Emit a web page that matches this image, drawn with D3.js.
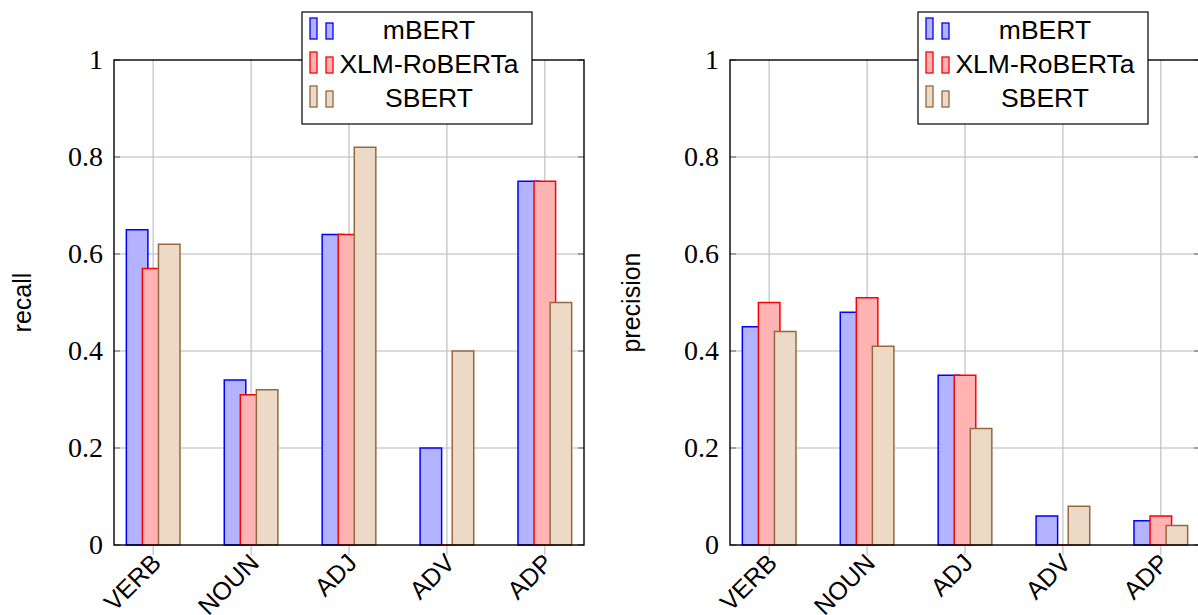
<!DOCTYPE html>
<html>
<head>
<meta charset="utf-8">
<script src="https://cdn.jsdelivr.net/npm/d3@7"></script>
<style>
  body { margin: 0; background: #fff; }
  svg { display: block; }
  .tickLabel { font-family: "Liberation Serif", "DejaVu Serif", serif; font-size: 28px; fill: #000; }
  .catLabel, .axisTitle, .legendText { font-family: "Liberation Sans", Arial, sans-serif; fill: #000; }
</style>
</head>
<body>
<svg id="chart" width="1198" height="615"></svg>
<script>
//data
var categories = ["VERB", "NOUN", "ADJ", "ADV", "ADP"]
var models = ["mBERT", "XLM-RoBERTa", "SBERT"]

var recall_mBERT = [0.65, 0.34, 0.64, 0.20, 0.75]
var recall_XLM = [0.57, 0.31, 0.64, 0.00, 0.75]
var recall_SBERT = [0.62, 0.32, 0.82, 0.40, 0.50]

var precision_mBERT = [0.45, 0.48, 0.35, 0.06, 0.05]
var precision_XLM = [0.50, 0.51, 0.35, 0.00, 0.06]
var precision_SBERT = [0.44, 0.41, 0.24, 0.08, 0.04]

var yTicks = [0, 0.2, 0.4, 0.6, 0.8, 1]

//pgfplots style colours (color!30 fill, plain color stroke)
var fills = ["#b3b3ff", "#ffb3b3", "#ecd9c6"]
var strokes = ["#0000ff", "#ff0000", "#96683e"]

var svg = d3.select("#chart")

function drawPanel(left, yTitle, titleX, series){
  var top = 60, width = 470, height = 485

  var x = d3.scalePoint()
    .domain(categories)
    .range([left, left + width])
    .padding(0.4)

  var y = d3.scaleLinear()
    .domain([0, 1])
    .range([top + height, top])

  var step = x.step()
  var barW = step * 0.22 //bar width
  var shift = step * 0.164 //offset between bars in a group

  var g = svg.append("g")

  //grid
  g.selectAll("line.hgrid")
    .data(yTicks.slice(1, -1))
    .enter().append("line")
    .attr("x1", left).attr("x2", left + width)
    .attr("y1", function(d){ return y(d) }).attr("y2", function(d){ return y(d) })
    .style("stroke", "#cfcfcf").style("stroke-width", 1.3)

  g.selectAll("line.vgrid")
    .data(categories)
    .enter().append("line")
    .attr("x1", function(d){ return x(d) }).attr("x2", function(d){ return x(d) })
    .attr("y1", top).attr("y2", top + height + 10)
    .style("stroke", "#c4c4c4").style("stroke-width", 1.3)

  //bars
  series.forEach(function(vals, s){
    g.selectAll("path.bar" + s)
      .data(vals)
      .enter().append("path")
      .attr("d", function(d, i){
        var x0 = x(categories[i]) + (s - 1) * shift - barW / 2
        var x1 = x0 + barW
        var y0 = y(0), y1 = y(d)
        return "M" + x0 + "," + y0 + "V" + y1 + "H" + x1 + "V" + y0 + "Z"
      })
      .style("fill", fills[s])
      .style("stroke", strokes[s])
      .style("stroke-width", 1.5)
  })

  //y ticks inside on both sides
  yTicks.forEach(function(t){
    g.append("line")
      .attr("x1", left).attr("x2", left + 6)
      .attr("y1", y(t)).attr("y2", y(t))
      .style("stroke", "#777").style("stroke-width", 1.2)
    g.append("line")
      .attr("x1", left + width - 6).attr("x2", left + width)
      .attr("y1", y(t)).attr("y2", y(t))
      .style("stroke", "#777").style("stroke-width", 1.2)
  })

  //axis box
  g.append("rect")
    .attr("x", left).attr("y", top)
    .attr("width", width).attr("height", height)
    .style("fill", "none").style("stroke", "#000").style("stroke-width", 1.4)

  //y tick labels
  g.selectAll("text.ylab")
    .data(yTicks)
    .enter().append("text")
    .attr("class", "tickLabel")
    .attr("x", left - 11)
    .attr("y", function(d){ return y(d) })
    .attr("dy", "0.33em")
    .attr("text-anchor", "end")
    .text(function(d){ return d3.format("")(d) })

  //x labels rotated 45 degrees
  g.selectAll("text.xlab")
    .data(categories)
    .enter().append("text")
    .attr("class", "catLabel")
    .style("font-size", "25px")
    .attr("text-anchor", "end")
    .attr("transform", function(d){ return "translate(" + (x(d) - 3) + "," + (top + height + 7) + ") rotate(-45)" })
    .attr("dy", "0.7em")
    .text(function(d){ return d })

  //y title
  g.append("text")
    .attr("class", "axisTitle")
    .style("font-size", "25px")
    .attr("text-anchor", "middle")
    .attr("transform", "translate(" + titleX + "," + (top + height / 2) + ") rotate(-90)")
    .text(yTitle)

  //legend
  var lx = left + 188, ly = 12
  var lg = g.append("g").attr("transform", "translate(" + lx + "," + ly + ")")
  lg.append("rect")
    .attr("width", 230).attr("height", 112)
    .style("fill", "#fff").style("stroke", "#000").style("stroke-width", 1.2)

  models.forEach(function(m, i){
    var rowBottom = 27 + i * 34
    lg.append("rect")
      .attr("x", 8).attr("y", rowBottom - 21)
      .attr("width", 7).attr("height", 21)
      .style("fill", fills[i]).style("stroke", strokes[i]).style("stroke-width", 1.3)
    lg.append("rect")
      .attr("x", 24).attr("y", rowBottom - 16)
      .attr("width", 7).attr("height", 16)
      .style("fill", fills[i]).style("stroke", strokes[i]).style("stroke-width", 1.3)
    lg.append("text")
      .attr("class", "legendText")
      .style("font-size", "26.5px")
      .attr("x", 127).attr("y", rowBottom)
      .attr("text-anchor", "middle")
      .text(m)
  })
}

drawPanel(114, "recall", 31, [recall_mBERT, recall_XLM, recall_SBERT])
drawPanel(730, "precision", 640, [precision_mBERT, precision_XLM, precision_SBERT])
</script>
</body>
</html>
